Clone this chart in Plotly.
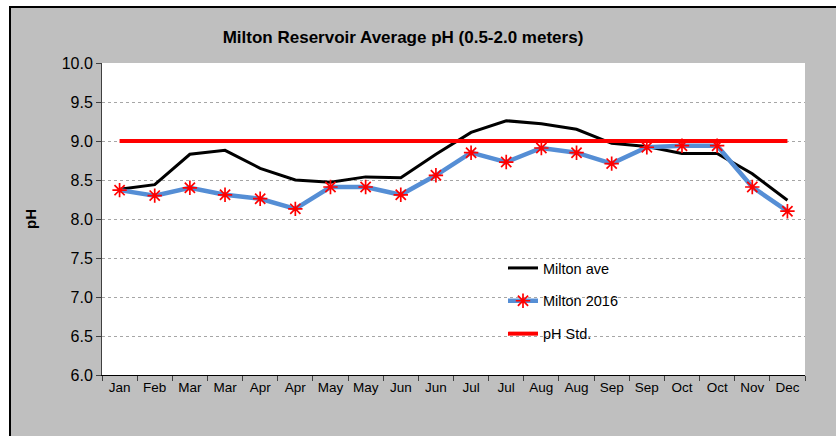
import plotly.graph_objects as go

months = ["Jan", "Feb", "Mar", "Mar", "Apr", "Apr", "May", "May", "Jun", "Jun",
          "Jul", "Jul", "Aug", "Aug", "Sep", "Sep", "Oct", "Oct", "Nov", "Dec"]
milton_ave = [8.38, 8.44, 8.83, 8.88, 8.65, 8.50, 8.47, 8.54, 8.53, 8.83,
              9.11, 9.26, 9.22, 9.15, 8.97, 8.93, 8.84, 8.84, 8.58, 8.24]
milton_2016 = [8.37, 8.30, 8.40, 8.31, 8.26, 8.13, 8.41, 8.41, 8.31, 8.56,
               8.85, 8.73, 8.91, 8.85, 8.71, 8.92, 8.94, 8.94, 8.41, 8.10]
ph_std = [9.0] * len(months)
y_ticks = [6.0, 6.5, 7.0, 7.5, 8.0, 8.5, 9.0, 9.5, 10.0]

x = list(range(len(months)))

# layout geometry (pixels)
W, H = 836, 436
L, R, T, B = 102, 31, 63, 61
pw, ph = W - L - R, H - T - B


def px_x(p):
    return (p - L) / pw


def px_y(p):
    return (H - B - p) / ph


fig = go.Figure()
fig.add_trace(go.Scatter(
    x=x, y=milton_ave, name="Milton ave", mode="lines",
    line=dict(color="#000000", width=3), legendgroup="a"))
fig.add_trace(go.Scatter(
    x=x, y=milton_2016, name="Milton 2016", mode="lines+markers",
    line=dict(color="#558ED5", width=4.5),
    marker=dict(symbol="asterisk-open", size=12, color="#FF0000",
                line=dict(color="#FF0000", width=1.7)),
    legendgroup="b"))
fig.add_trace(go.Scatter(
    x=x, y=ph_std, name="pH Std.", mode="lines",
    line=dict(color="#FF0000", width=4), legendgroup="c"))

font = "Arial, Liberation Sans, sans-serif"

shapes = [
    # white strips outside the chart frame
    dict(type="rect", xref="paper", yref="paper", x0=px_x(-20), x1=px_x(9),
         y0=px_y(500), y1=px_y(-20), fillcolor="white", line=dict(width=0)),
    dict(type="rect", xref="paper", yref="paper", x0=px_x(-20), x1=px_x(900),
         y0=px_y(6), y1=px_y(-20), fillcolor="white", line=dict(width=0)),
    # black frame lines (left and top)
    dict(type="line", xref="paper", yref="paper", x0=px_x(9), x1=px_x(900),
         y0=px_y(7), y1=px_y(7), line=dict(color="#000000", width=2)),
    dict(type="line", xref="paper", yref="paper", x0=px_x(10), x1=px_x(10),
         y0=px_y(6), y1=px_y(500), line=dict(color="#000000", width=2)),
]

fig.update_layout(
    width=W, height=H,
    margin=dict(l=L, r=R, t=T, b=B, autoexpand=False),
    paper_bgcolor="#BFBFBF", plot_bgcolor="white",
    font=dict(family=font, color="#000000"),
    title=dict(text="<b>Milton Reservoir Average pH (0.5-2.0 meters)</b>",
               x=403 / W, xanchor="center", xref="container",
               y=1 - 37 / H, yanchor="middle",
               font=dict(family=font, size=17, color="#000000")),
    shapes=shapes,
    showlegend=True,
    legend=dict(x=px_x(503), y=px_y(252), xanchor="left", yanchor="top",
                bgcolor="rgba(0,0,0,0)", borderwidth=0,
                font=dict(family=font, size=14.5, color="#000000"),
                traceorder="grouped", tracegroupgap=11),
    annotations=[dict(text="<b>pH</b>", xref="paper", yref="paper",
                      x=px_x(30), y=px_y(219), textangle=-90,
                      showarrow=False, xanchor="center", yanchor="middle",
                      font=dict(family=font, size=15, color="#000000"))],
)

fig.update_xaxes(
    range=[-0.5, len(months) - 0.5], tickmode="array", tickvals=x, ticktext=months,
    ticks="", showgrid=False, zeroline=False,
    showline=True, linecolor="#000000", linewidth=1,
    tickfont=dict(family=font, size=13.5, color="#000000"),
    minor=dict(tickmode="linear", tick0=-0.5, dtick=1, ticks="outside",
               ticklen=5, tickcolor="#404040", tickwidth=1, showgrid=False),
    fixedrange=True,
)
fig.update_yaxes(
    range=[6, 10], tickmode="array", tickvals=y_ticks,
    ticktext=[f"{v:.1f}" for v in y_ticks],
    ticks="outside", ticklen=5, tickcolor="#404040",
    showgrid=True, gridcolor="#A6A6A6", gridwidth=1, griddash="dot",
    zeroline=False, showline=True, linecolor="#404040", linewidth=1,
    tickfont=dict(family=font, size=16, color="#000000"),
    fixedrange=True,
)

fig.write_html("out.html", config={"displayModeBar": False},
               post_script="document.body.style.margin='0';document.body.style.overflow='hidden';")
